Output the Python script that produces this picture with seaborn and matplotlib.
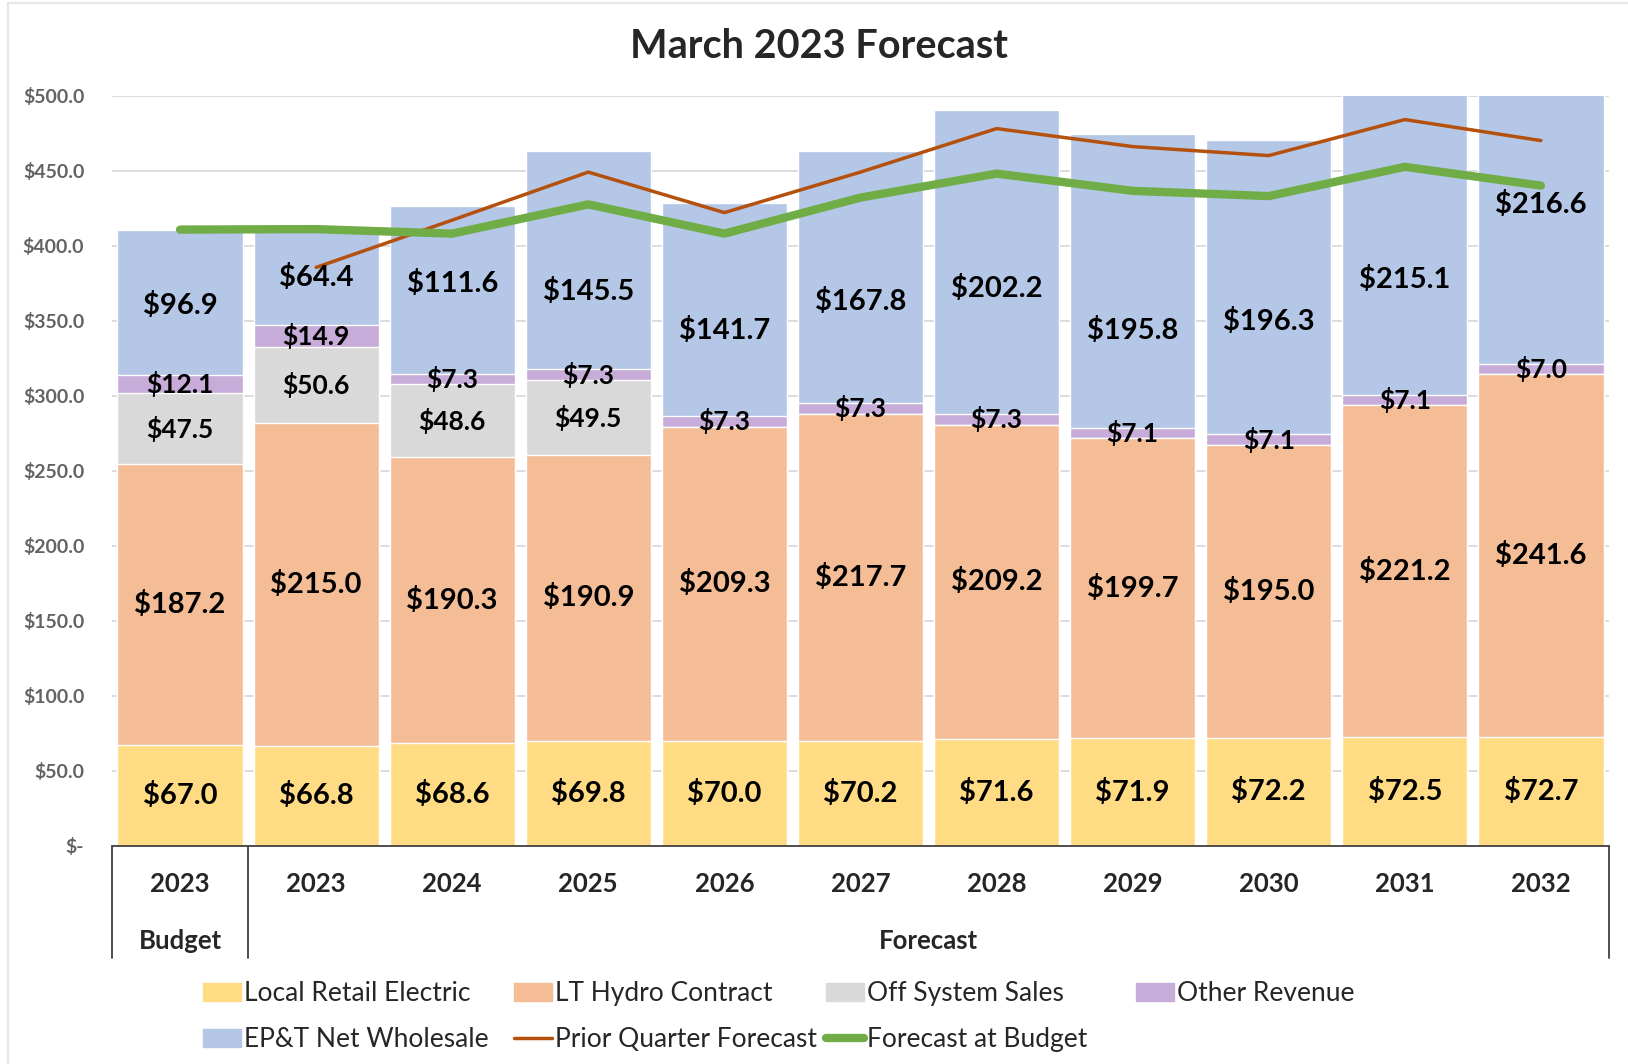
import numpy as np
import pandas as pd
import matplotlib
matplotlib.use("Agg")
import matplotlib.pyplot as plt
import matplotlib.transforms as mtransforms
from matplotlib.patches import Patch, Rectangle
from matplotlib.lines import Line2D
import seaborn as sns

# --- data ---
periods = ["2023 Budget", "2023", "2024", "2025", "2026", "2027",
           "2028", "2029", "2030", "2031", "2032"]
year_labels = ["2023", "2023", "2024", "2025", "2026", "2027",
               "2028", "2029", "2030", "2031", "2032"]
local_retail = [67.0, 66.8, 68.6, 69.8, 70.0, 70.2, 71.6, 71.9, 72.2, 72.5, 72.7]
lt_hydro = [187.2, 215.0, 190.3, 190.9, 209.3, 217.7, 209.2, 199.7, 195.0, 221.2, 241.6]
off_system = [47.5, 50.6, 48.6, 49.5, 0, 0, 0, 0, 0, 0, 0]
other_revenue = [12.1, 14.9, 7.3, 7.3, 7.3, 7.3, 7.3, 7.1, 7.1, 7.1, 7.0]
ept_wholesale = [96.9, 64.4, 111.6, 145.5, 141.7, 167.8, 202.2, 195.8, 196.3, 215.1, 216.6]
prior_quarter = [385.5, 417.0, 449.0, 422.0, 449.0, 478.0, 466.0, 460.0, 484.0, 470.0]  # 2023..2032
forecast_budget = [410.7, 411.0, 408.0, 427.5, 408.0, 432.0, 448.0, 436.5, 433.0, 452.5, 440.0]

series_names = ["Local Retail Electric", "LT Hydro Contract", "Off System Sales",
                "Other Revenue", "EP&T Net Wholesale"]
series_vals = [local_retail, lt_hydro, off_system, other_revenue, ept_wholesale]
colors = ["#FFDC83", "#F4BD96", "#D9D9D9", "#C7ABD8", "#B4C7E7"]

# manual nudges Excel applied to the wholesale labels (data units)
wholesale_label_shift = [-2, -1, 4, -21, -14, -16, -18, -33, -23, -31, -2]

sns.set_theme(style="white")
plt.rcParams["font.family"] = ["Lato", "DejaVu Sans"]

fig = plt.figure(figsize=(16.28, 10.64), dpi=100)
ax = fig.add_axes([0.0688, 0.2049, 0.9195, 0.7053])

df = pd.DataFrame({"period": periods})
cum = np.zeros(len(periods))
bottoms = []
for vals in series_vals:
    bottoms.append(cum.copy())
    cum = cum + np.array(vals)
tops = [b + np.array(v) for b, v in zip(bottoms, series_vals)]

# stacked bars: draw cumulative totals from the top layer down
for i in range(len(series_vals) - 1, -1, -1):
    df["total"] = tops[i]
    sns.barplot(data=df, x="period", y="total", order=periods, color=colors[i],
                saturation=1, width=0.92, ax=ax, zorder=2)

# value labels
for i, vals in enumerate(series_vals):
    size = 19 if i in (2, 3) else 21
    for j, v in enumerate(vals):
        if v == 0:
            continue
        y = bottoms[i][j] + v / 2
        if i == 4:
            y += wholesale_label_shift[j]
        ax.annotate(f"${v:.1f}", (j, y), ha="center", va="center",
                    fontsize=size, fontweight="bold", color="black", zorder=5)

x_pos = np.arange(len(periods))
sns.lineplot(x=x_pos[1:], y=prior_quarter, color="#B5510F", lw=2.5, ax=ax, zorder=4)
sns.lineplot(x=x_pos, y=forecast_budget, color="#70AD47", lw=6, ax=ax, zorder=4,
             solid_capstyle="round")

ax.set_xlim(-0.5, 10.5)
ax.set_ylim(0, 500)
ax.set_yticks(np.arange(0, 501, 50))
ax.set_yticklabels(["$-"] + [f"${t:.1f}" for t in np.arange(50, 501, 50)])
ax.tick_params(axis="y", length=0, pad=20, labelsize=14, labelcolor="#636363")
for lab in ax.get_yticklabels():
    lab.set_fontweight("bold")
ax.yaxis.grid(True, color="#D9D9D9", lw=1.3, zorder=0)
ax.set_axisbelow(True)
ax.set_xticks([])
ax.set_xlabel("")
ax.set_ylabel("")
for s in ax.spines.values():
    s.set_visible(False)

# category "table" under the axis
trans = mtransforms.blended_transform_factory(ax.transData, ax.transAxes)
ax.plot([-0.5, 10.5], [0, 0], color="#404040", lw=1.3, transform=trans, clip_on=False)
for xv in [-0.5, 0.5, 10.5]:
    ax.plot([xv, xv], [0, -0.149], color="#404040", lw=1.3, transform=trans, clip_on=False)
for j, lab in enumerate(year_labels):
    ax.text(j, -0.051, lab, transform=trans, ha="center", va="center",
            fontsize=18.5, fontweight="bold")
ax.text(0, -0.126, "Budget", transform=trans, ha="center", va="center",
        fontsize=18.5, fontweight="bold")
ax.text(5.5, -0.126, "Forecast", transform=trans, ha="center", va="center",
        fontsize=18.5, fontweight="bold")

fig.text(0.503, 0.956, "March 2023 Forecast", ha="center", va="center",
         fontsize=28.5, fontweight="bold")

# legend in four fixed columns, like the Excel layout
handles = [Patch(color=c) for c in colors]
handles += [Line2D([], [], color="#B5510F", lw=2.5),
            Line2D([], [], color="#70AD47", lw=6)]
labels = series_names + ["Prior Quarter Forecast", "Forecast at Budget"]
columns = [[0, 4], [1, 5], [2, 6], [3]]
col_x = [203, 514, 826, 1136]
for cx, idx in zip(col_x, columns):
    leg = fig.legend([handles[k] for k in idx], [labels[k] for k in idx],
                     loc="upper left", bbox_to_anchor=(cx / 1628, 1 - 981 / 1064),
                     frameon=False, fontsize=19, borderpad=0, borderaxespad=0,
                     handlelength=1.45, handleheight=0.7, handletextpad=0.1,
                     labelspacing=0.8)

# faint chart border
fig.patches.append(Rectangle((8 / 1628, -0.01), 1.0, 1 - 3 / 1064 + 0.01,
                             transform=fig.transFigure, fill=False,
                             edgecolor="#E6E6E6", lw=1.5))

fig.savefig("out.png", dpi=100)
